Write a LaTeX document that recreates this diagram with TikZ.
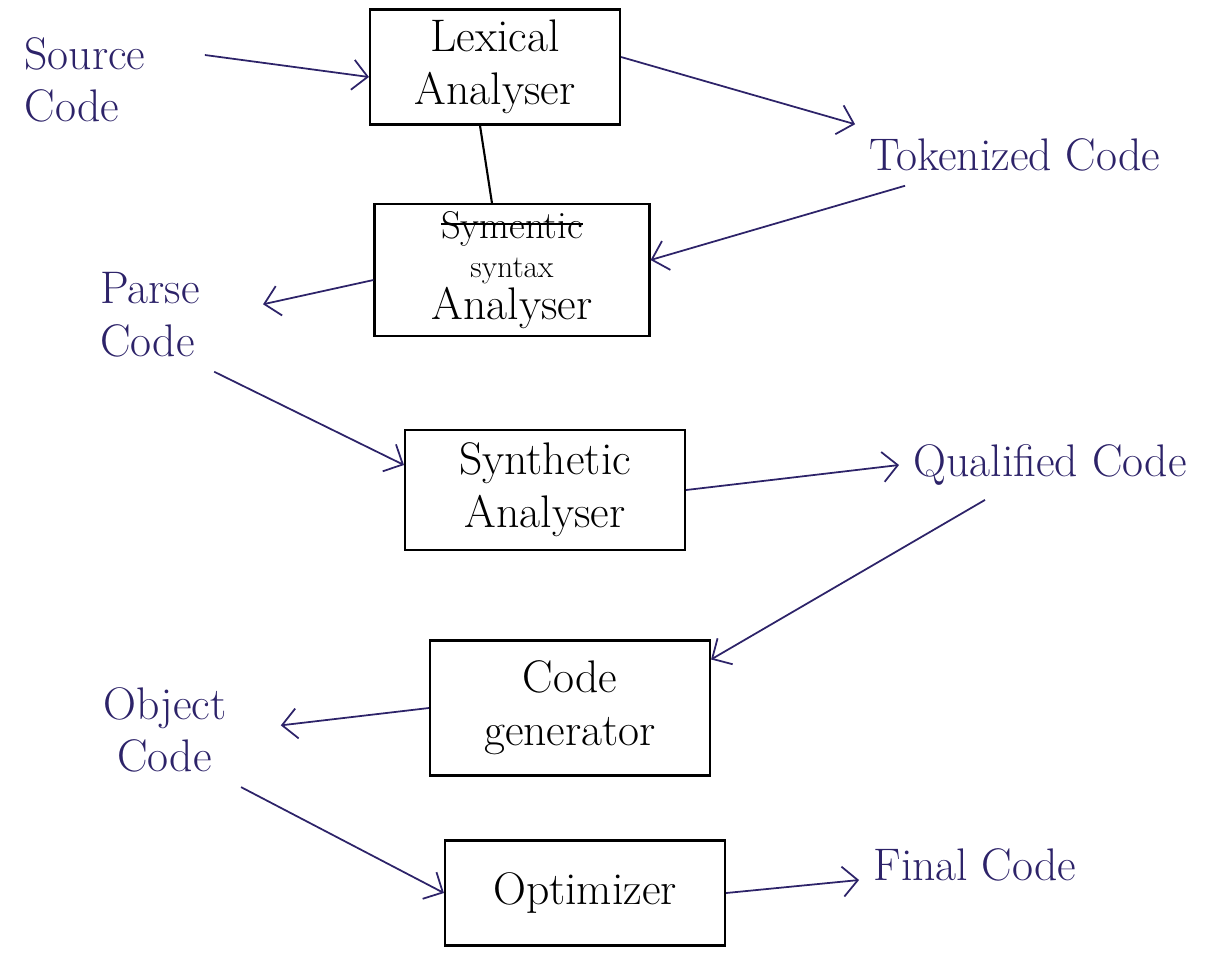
\documentclass[tikz,border=0pt]{standalone}
\usepackage{tikz}
\usetikzlibrary{arrows}
\usetikzlibrary{arrows.meta}
\definecolor{ink}{RGB}{45,35,105}
\newcommand{\struck}[1]{\setbox0\hbox{#1}\rlap{\rule[0.35em]{\wd0}{1pt}}\box0}

\begin{document}
\begin{tikzpicture}
 \newcommand{\bigText}{\fontsize{26}{30}\selectfont}
	\tikzset{stage/.style = {rectangle,draw,line width=1.2pt,inner sep=4pt,align=center,font=\bigText}}
	\tikzset{codeLabel/.style = {align=left,inner sep=8pt,font=\bigText,text=ink}}
	\tikzstyle{edge} = [-{Straight Barb[length=3mm,width=6mm]},ink,line width=1pt]
	\tikzstyle{link} = [-,line width=1.2pt]
	\useasboundingbox (0,0) rectangle (24.26,-19.16);
	%stages
	\node[stage,minimum width=5cm,minimum height=2.3cm] (lex) at (9.9,-1.34) {Lexical\\ Analyser};
	\node[stage,minimum width=5.5cm,minimum height=2.4cm] (syn) at (10.24,-5.4) {{\fontsize{22}{22}\selectfont\struck{Symentic}}\\[-8pt] {\fontsize{18}{18}\selectfont syntax}\\[-6pt] Analyser};
	\node[stage,minimum width=5.6cm,minimum height=2.4cm] (sem) at (10.9,-9.8) {Synthetic\\ Analyser};
	\node[stage,minimum width=5.6cm,minimum height=2.7cm] (gen) at (11.4,-14.16) {Code\\ generator};
	\node[stage,minimum width=5.6cm,minimum height=2.1cm] (opt) at (11.7,-17.86) {Optimizer};
	%codes
	\node[codeLabel] (src) at (1.7,-1.6) {Source\\ Code};
	\node[codeLabel] (tok) at (20.3,-3.1) {Tokenized Code};
	\node[codeLabel] (parse) at (3.0,-6.3) {Parse\\ Code};
	\node[codeLabel] (qual) at (21.0,-9.3) {Qualified Code};
	\node[codeLabel] (obj) at (3.3,-14.6) {Object\\ \ Code};
	\node[codeLabel] (fin) at (19.5,-17.3) {Final Code};
	%flow
	\draw[edge] ([xshift=0.9cm,yshift=0.5cm]src.east) to ([yshift=-0.2cm]lex.west);
	\draw[edge] ([yshift=0.2cm]lex.east) to (tok.north west);
	\draw[link] ([xshift=-0.3cm]lex.south) to ([xshift=-0.4cm]syn.north);
	\draw[edge] ([xshift=1cm]tok.south west) to ([yshift=0.2cm]syn.east);
	\draw[edge,shorten >=1cm] ([yshift=-0.2cm]syn.west) to (parse.east);
	\draw[edge] (parse.south east) to ([yshift=0.5cm]sem.west);
	\draw[edge] (sem.east) to (qual.west);
	\draw[edge] ([xshift=-1.3cm]qual.south) to ([yshift=-0.4cm]gen.north east);
	\draw[edge,shorten >=0.8cm] (gen.west) to (obj.east);
	\draw[edge] (obj.south east) to (opt.west);
	\draw[edge] (opt.east) to ([yshift=-0.3cm]fin.west);
\end{tikzpicture}
\end{document}
